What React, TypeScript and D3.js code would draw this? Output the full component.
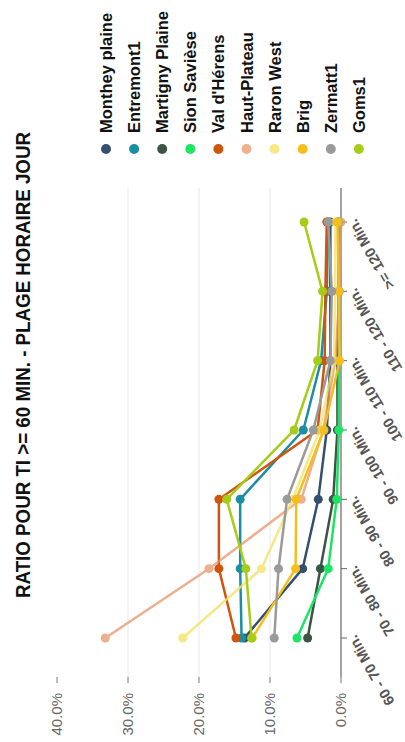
import React from "react";
import * as d3 from "d3";

const title = "RATIO POUR TI >= 60 MIN. - PLAGE HORAIRE JOUR";
const categories = ["60 - 70 Min.", "70 - 80 Min.", "80 - 90 Min.", "90 - 100 Min.", "100 - 110 Min.", "110 - 120 Min.", ">= 120 Min."];
const seriesNames = ["Monthey plaine", "Entremont1", "Martigny Plaine", "Sion Savièse", "Val d'Hérens", "Haut-Plateau", "Raron West", "Brig", "Zermatt1", "Goms1"];
const seriesColors = ["#34506E", "#1A8FA3", "#3C5446", "#1DE464", "#D0550C", "#E8956A", "#F5E36A", "#F4BE1C", "#9A9A9A", "#A5CC19"];
const seriesOpacity = [1, 1, 1, 1, 1, 0.75, 0.8, 1, 1, 1];

const montheyPlaine = [0.136, 0.054, 0.032, 0.020, 0.015, 0.015, 0.015];
const entremont1 = [0.140, 0.142, 0.142, 0.053, 0.028, 0.020, 0.018];
const martignyPlaine = [0.047, 0.029, 0.011, 0.005, 0.005, 0.003, 0.004];
const sionSaviese = [0.062, 0.018, 0.006, 0.003, 0.003, 0.003, 0.003];
const valDHerens = [0.148, 0.172, 0.172, 0.033, 0.023, 0.022, 0.020];
const hautPlateau = [0.332, 0.186, 0.056, 0.025, 0.008, 0.002, 0.000];
const raronWest = [0.223, 0.112, 0.068, 0.030, 0.010, 0.008, 0.008];
const brig = [0.125, 0.064, 0.063, 0.024, 0.002, 0.003, 0.005];
const zermatt1 = [0.094, 0.088, 0.076, 0.039, 0.015, 0.013, 0.018];
const goms1 = [0.126, 0.134, 0.161, 0.066, 0.033, 0.026, 0.052];

const seriesValues = [montheyPlaine, entremont1, martignyPlaine, sionSaviese, valDHerens, hautPlateau, raronWest, brig, zermatt1, goms1];
const yTicks = [0, 0.1, 0.2, 0.3, 0.4];
const gridTicks = [0.1, 0.2, 0.3];

const W = 742; // original (unrotated) width
const H = 405;
const FONT = "'Liberation Sans', Arial, sans-serif";

export default function App() {
  const x = d3.scalePoint<string>().domain(categories).range([104, 520]);
  const y = d3.scaleLinear().domain([0, 0.4]).range([341, 57]);
  const axisLeft = 65;
  const axisRight = 554;
  const line = d3
    .line<number>()
    .x((_, i) => x(categories[i]) as number)
    .y((v) => y(v));
  const fmt = d3.format(".1%");

  return (
    <svg width={H} height={W} style={{ position: "absolute", left: 0, top: 0, background: "#fff" }} fontFamily={FONT}>
      <g transform={`translate(0,${W}) rotate(-90)`}>
        <rect x={0} y={0} width={W} height={H} fill="#fff" />
        <text x={377} y={30} textAnchor="middle" fontWeight="bold" fontSize={21} fill="#111" textLength={466} lengthAdjust="spacingAndGlyphs">
          {title}
        </text>
        {gridTicks.map((t) => (
          <line key={"g" + t} x1={axisLeft} x2={axisRight} y1={y(t)} y2={y(t)} stroke="#e8e8e8" strokeWidth={1} />
        ))}
        {yTicks.map((t) => (
          <g key={"yt" + t}>
            <line x1={axisLeft - 6} x2={axisLeft} y1={y(t)} y2={y(t)} stroke="#777" strokeWidth={1} />
            <text x={49} y={y(t) + 5} textAnchor="end" fontSize={15} fill="#666">
              {fmt(t)}
            </text>
          </g>
        ))}
        <line x1={axisLeft} x2={axisRight} y1={y(0)} y2={y(0)} stroke="#666" strokeWidth={1.2} />
        {categories.map((c) => (
          <g key={"xc" + c}>
            <line x1={x(c)} x2={x(c)} y1={y(0)} y2={y(0) + 6} stroke="#666" strokeWidth={1} />
            <text transform={`translate(${(x(c) as number) + 4},${y(0) + 15}) rotate(-30)`} textAnchor="end" fontSize={14.5} fill="#555" fontWeight="bold">
              {c}
            </text>
          </g>
        ))}
        {seriesValues.map((vals, si) => (
          <g key={"s" + si} opacity={seriesOpacity[si]}>
            <path d={line(vals) || ""} fill="none" stroke={seriesColors[si]} strokeWidth={2.5} />
            {vals.map((v, i) => (
              <circle key={i} cx={x(categories[i])} cy={y(v)} r={4.5} fill={seriesColors[si]} />
            ))}
          </g>
        ))}
        {seriesNames.map((n, i) => (
          <g key={"l" + n} transform={`translate(0,${106 + i * 28.1})`}>
            <circle cx={593} cy={0} r={5} fill={seriesColors[i]} opacity={seriesOpacity[i]} />
            <text x={609} y={6} fontSize={16.5} fontWeight="bold" fill="#111">
              {n}
            </text>
          </g>
        ))}
      </g>
    </svg>
  );
}
